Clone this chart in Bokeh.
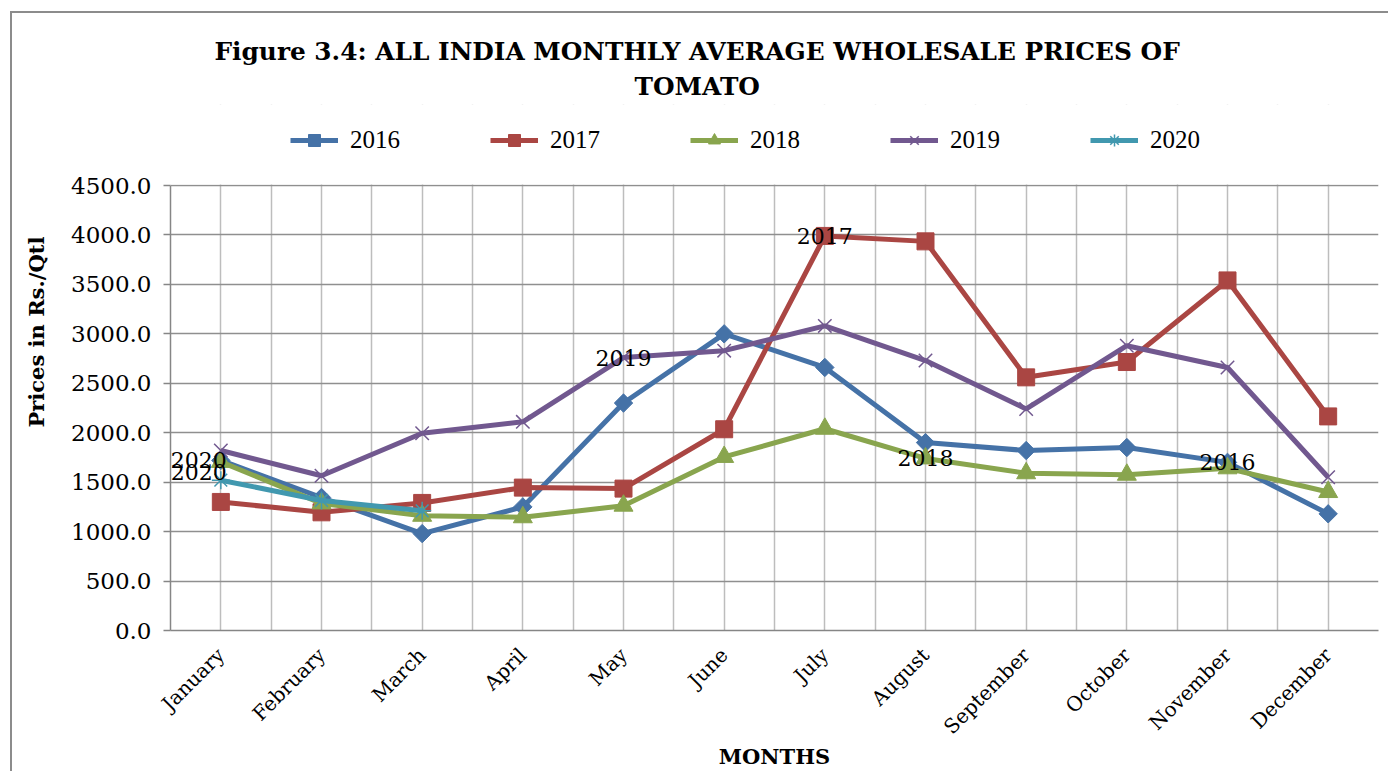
import math
from bokeh.plotting import figure
from bokeh.models import (Range1d, FixedTicker, Legend, LegendItem, Label, Title,
                          PrintfTickFormatter, BoxAnnotation)
from bokeh.embed import file_html
from bokeh.resources import INLINE

# ---------------- data ----------------
months = ["January", "February", "March", "April", "May", "June", "July",
          "August", "September", "October", "November", "December"]
series_names = ["2016", "2017", "2018", "2019", "2020"]
prices_2016 = [1720, 1345, 980, 1250, 2300, 3000, 2660, 1900, 1820, 1850, 1700, 1180]
prices_2017 = [1300, 1195, 1290, 1445, 1435, 2035, 3990, 3935, 2560, 2715, 3540, 2165]
prices_2018 = [1705, 1285, 1160, 1145, 1262, 1755, 2040, 1740, 1590, 1575, 1640, 1400]
prices_2019 = [1820, 1565, 1995, 2110, 2760, 2830, 3080, 2730, 2240, 2880, 2660, 1550]
prices_2020 = [1520, 1315, 1210]
y_ticks = [0, 500, 1000, 1500, 2000, 2500, 3000, 3500, 4000, 4500]

title_line1 = "Figure 3.4: ALL INDIA MONTHLY AVERAGE WHOLESALE PRICES OF"
title_line2 = "TOMATO"
y_title = "Prices in Rs./Qtl"
x_title = "MONTHS"

all_series = [prices_2016, prices_2017, prices_2018, prices_2019, prices_2020]
colors = ["#4572A7", "#AA4643", "#89A54E", "#71588F", "#4198AF"]

# ---------------- layout geometry (page px) ----------------
FL, FR, FB = 170, 1378, 630                # plot-area edges on the page
PT = 185                                   # page y of the 4500 line (plot-area top)
FT = 104                                   # frame top (frame also hosts the legend)
X0, X1 = 0.5, 12.5
Y0, Y1 = 0, 4500
YTOP = Y1 * (FB - FT) / (FB - PT)          # frame extends above the plot area for the legend

p = figure(frame_width=FR - FL, frame_height=FB - FT, output_backend="svg",
           toolbar_location=None, title=None,
           x_range=Range1d(X0, X1), y_range=Range1d(Y0, YTOP),
           min_border_left=FL, min_border_right=10,
           min_border_top=FT, min_border_bottom=132,
           background_fill_color="white", border_fill_color="white",
           border_fill_alpha=0)
p.styles = {"background": (
    "linear-gradient(#8c8c8c, #8c8c8c) 10px 11px / 2px calc(100% - 11px) no-repeat, "
    "linear-gradient(#8c8c8c, #8c8c8c) 10px 11px / calc(100% - 10px) 2px no-repeat, "
    "#ffffff")}
p.outline_line_color = None

SERIF = "DejaVu Serif"

# axes
p.yaxis.ticker = FixedTicker(ticks=y_ticks)
p.yaxis.bounds = (Y0, Y1)
p.yaxis.formatter = PrintfTickFormatter(format="%.1f")
p.yaxis.major_label_text_font = SERIF
p.yaxis.major_label_text_font_size = "23px"
p.yaxis.major_label_text_color = "black"
p.yaxis.axis_line_color = "#868686"
p.yaxis.axis_line_width = 1.5
p.yaxis.major_tick_line_color = "#868686"
p.yaxis.major_tick_line_width = 1.5
p.yaxis.major_tick_out = 7
p.yaxis.major_tick_in = 0
p.yaxis.minor_tick_line_color = None
p.yaxis.major_label_standoff = 12

month_pos = [i + 1 for i in range(len(months))]
p.xaxis.ticker = FixedTicker(ticks=month_pos)
p.xaxis.major_label_overrides = {pos: m for pos, m in zip(month_pos, months)}
p.xaxis.major_label_orientation = math.pi / 4
p.xaxis.major_label_text_font = SERIF
p.xaxis.major_label_text_font_size = "20px"
p.xaxis.major_label_text_color = "black"
p.xaxis.axis_line_color = "#868686"
p.xaxis.axis_line_width = 1.5
p.xaxis.major_tick_line_color = None
p.xaxis.minor_tick_line_color = None
p.xaxis.major_label_standoff = 15
p.xaxis.axis_label = x_title
p.xaxis.axis_label_text_font = SERIF
p.xaxis.axis_label_text_font_size = "21px"
p.xaxis.axis_label_text_font_style = "bold"
p.xaxis.axis_label_text_color = "black"
p.xaxis.axis_label_standoff = -6

# grids
p.xgrid.ticker = FixedTicker(ticks=[X0 + 0.5 * k for k in range(25)])
p.xgrid.grid_line_color = "#bdbdbd"
p.xgrid.grid_line_width = 1.5
p.ygrid.ticker = FixedTicker(ticks=y_ticks)
p.ygrid.grid_line_color = "#8f8f8f"
p.ygrid.grid_line_width = 1.5

# blank band above the plot area (hides grid lines where the legend sits)
p.add_layout(BoxAnnotation(bottom=Y1 + 10, fill_color="white", fill_alpha=1,
                           line_alpha=0, level="underlay"))

# series
marker_specs = [
    dict(marker="square", size=13, angle=math.pi / 4, line_width=1),
    dict(marker="square", size=17, angle=0, line_width=1),
    dict(marker="triangle", size=19, angle=0, line_width=1),
    dict(marker="x", size=19, angle=0, line_width=1.5),
    dict(marker="asterisk", size=18, angle=0, line_width=1.5),
]

items = []
for name, vals, col, ms in zip(series_names, all_series, colors, marker_specs):
    xs = month_pos[:len(vals)]
    r_line = p.line(xs, vals, line_color=col, line_width=5)
    if ms["marker"] in ("x", "asterisk"):
        r_pts = p.scatter(xs, vals, marker=ms["marker"], size=ms["size"],
                          line_color=col, line_width=ms["line_width"])
    else:
        r_pts = p.scatter(xs, vals, marker=ms["marker"], size=ms["size"], angle=ms["angle"],
                          fill_color=col, line_color=col, line_width=ms["line_width"])
    items.append(LegendItem(label=name, renderers=[r_line, r_pts]))

# legend inside the (extended) frame, above the plot area
LEG_LEFT, LEG_CY, LEG_H = 290, 140, 30
legend = Legend(items=items, orientation="horizontal",
                location=(LEG_LEFT - FL, FB - LEG_CY - LEG_H / 2),
                glyph_width=48, glyph_height=LEG_H, label_standoff=12, spacing=90,
                label_text_font="Liberation Serif", label_text_font_size="25px",
                label_text_color="black", border_line_color=None,
                background_fill_alpha=0, padding=0, margin=0)
p.add_layout(legend, "center")

t1 = Title(text=title_line1, align="left", offset=44, standoff=2, text_font=SERIF,
           text_font_size="24.8px", text_font_style="bold", text_color="black")
t2 = Title(text=title_line2, align="left", offset=464, standoff=7, text_font=SERIF,
           text_font_size="24.8px", text_font_style="bold", text_color="black")
p.add_layout(t2, "above")
p.add_layout(t1, "above")

ty = Title(text=y_title, align="left", offset=203, standoff=40, text_font=SERIF,
           text_font_size="21px", text_font_style="bold", text_color="black")
p.add_layout(ty, "left")

# data labels (series name shown at points)
data_labels = [
    # text, series index, month index, dx px, dy px, align
    ("2020", 4, 0, 6, 20, "right"),
    ("2020", 4, 0, 6, 8, "right"),
    ("2019", 3, 4, 0, 0, "center"),
    ("2017", 1, 6, 0, 0, "center"),
    ("2018", 2, 7, 0, 0, "center"),
    ("2016", 0, 10, 0, 0, "center"),
]
for text, si, mi, dx, dy, al in data_labels:
    p.add_layout(Label(x=month_pos[mi], y=all_series[si][mi], text=text,
                       x_offset=dx, y_offset=dy, text_align=al, text_baseline="middle",
                       text_font=SERIF, text_font_size="22px", text_color="black"))

open("out.html", "w").write(file_html(p, INLINE))
